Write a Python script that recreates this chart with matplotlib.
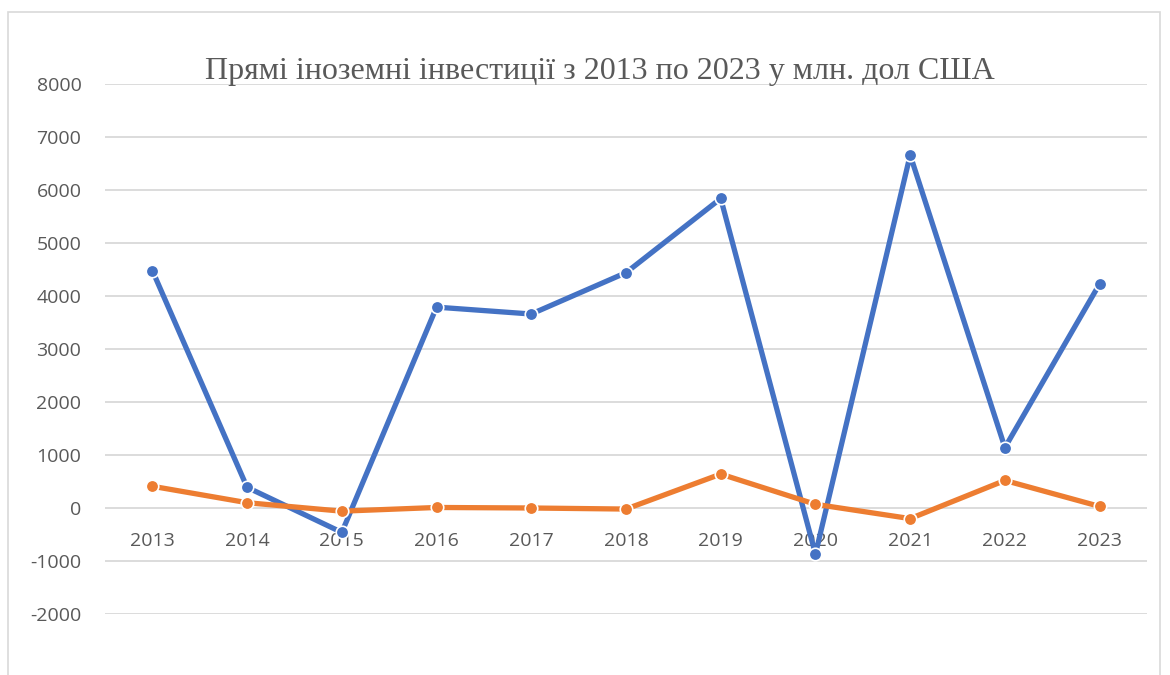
import matplotlib.pyplot as plt
from matplotlib.patches import Rectangle

years = ['2013', '2014', '2015', '2016', '2017', '2018', '2019', '2020', '2021', '2022', '2023']
blue_values = [4480, 390, -460, 3790, 3660, 4440, 5840, -870, 6660, 1140, 4230]
orange_values = [410, 100, -60, 10, 0, -20, 640, 70, -200, 520, 30]
y_ticks = [-2000, -1000, 0, 1000, 2000, 3000, 4000, 5000, 6000, 7000, 8000]
title = 'Прямі іноземні інвестиції з 2013 по 2023 у млн. дол США'

W, H = 1170, 675
fig = plt.figure(figsize=(W / 100, H / 100), dpi=100)
fig.patches.append(Rectangle((8 / W, -0.02), 1152 / W, 1.02 - 12 / H,
                             transform=fig.transFigure, fill=False,
                             edgecolor='#d9d9d9', linewidth=1.2))

ax = fig.add_axes([105 / W, 1 - 614 / H, (1147 - 105) / W, (614 - 84) / H])
x = list(range(len(years)))

ax.plot(x, blue_values, color='#4472C4', linewidth=3.8, marker='o',
        markersize=9, markerfacecolor='#4472C4', markeredgecolor='white',
        markeredgewidth=1.2, zorder=3)
ax.plot(x, orange_values, color='#ED7D31', linewidth=3.8, marker='o',
        markersize=9, markerfacecolor='#ED7D31', markeredgecolor='white',
        markeredgewidth=1.2, zorder=3)

ax.set_xlim(-0.5, len(years) - 0.5)
ax.set_ylim(-2000, 8000)
ax.set_yticks(y_ticks)
ax.set_yticklabels([str(v) for v in y_ticks])
ax.set_xticks(x)
ax.set_xticklabels(years)

for s in ax.spines.values():
    s.set_visible(False)
ax.spines['bottom'].set_position(('data', 0))
ax.grid(axis='y', color='#d9d9d9', linewidth=1.3, zorder=0)
ax.set_axisbelow(True)
ax.tick_params(axis='y', length=0, pad=17, labelsize=14, labelcolor='#595959')
ax.tick_params(axis='x', length=0, pad=17, labelsize=14, labelcolor='#595959')
for lab in ax.get_xticklabels() + ax.get_yticklabels():
    lab.set_fontfamily('Open Sans')

fig.text(0.6 / 1.17 + 0.0, 1 - 71 / H, title, ha='center', va='center',
         fontsize=23, color='#595959', family='Liberation Serif')

fig.savefig('out.png', dpi=100)
